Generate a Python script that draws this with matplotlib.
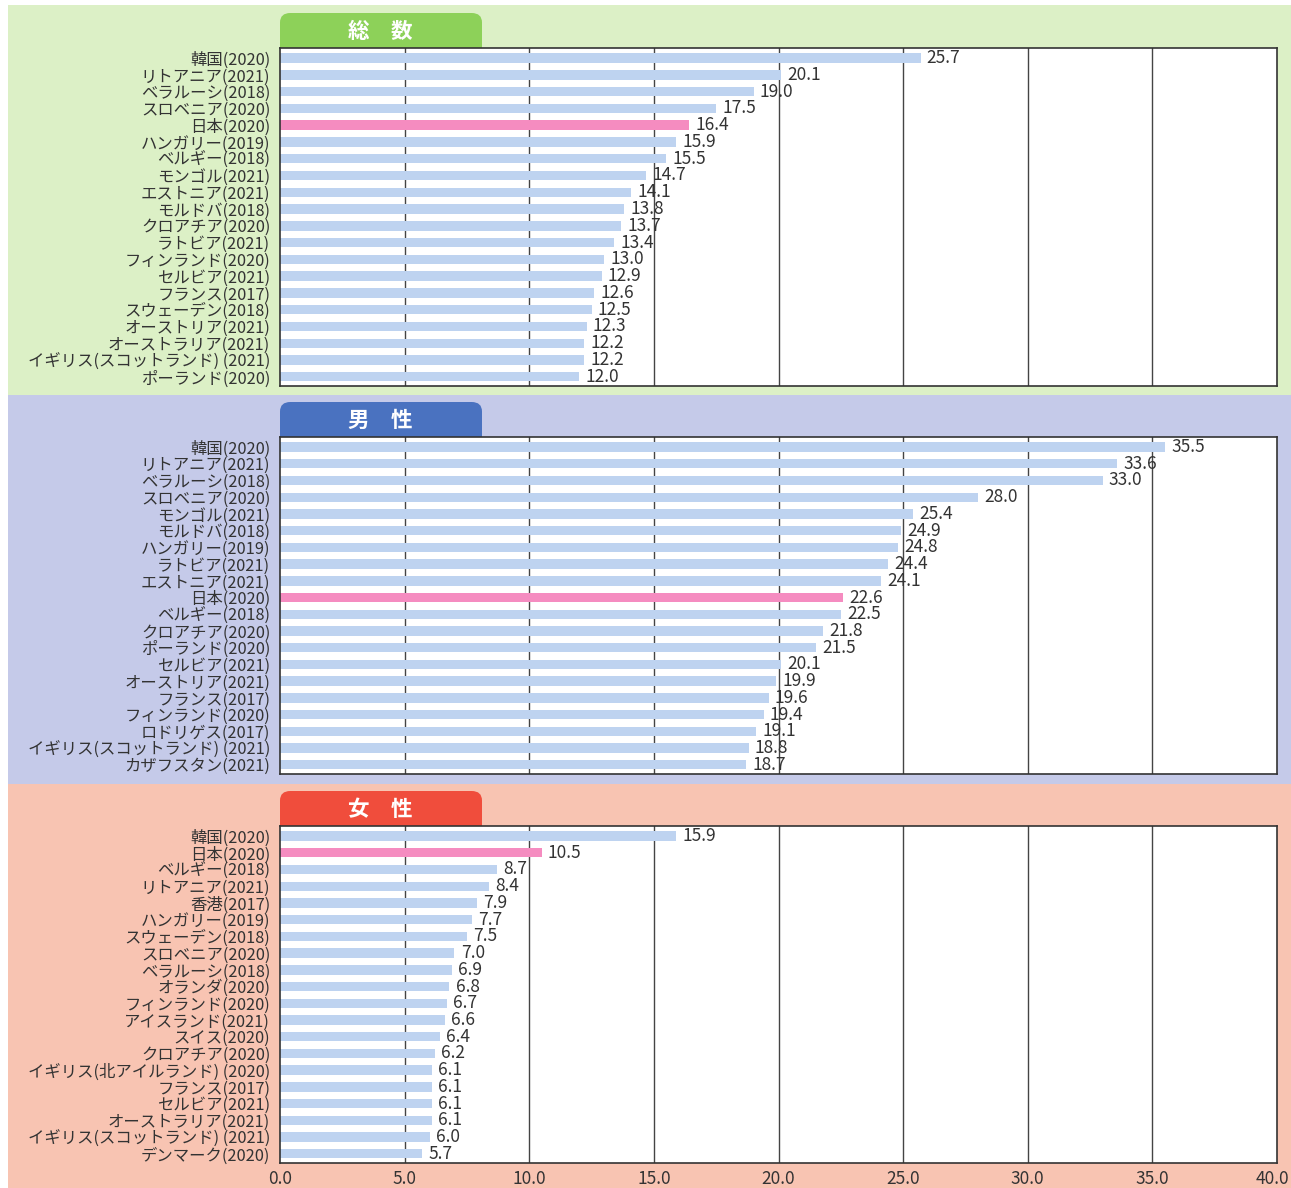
import matplotlib
matplotlib.use("Agg")
import matplotlib.pyplot as plt
from matplotlib.patches import Rectangle, FancyBboxPatch
from matplotlib.transforms import ScaledTranslation

plt.rcParams['font.family'] = ['Noto Sans CJK JP', 'DejaVu Sans']

# ---- data -------------------------------------------------------------
total_labels = ["韓国(2020)", "リトアニア(2021)", "ベラルーシ(2018)", "スロベニア(2020)",
                "日本(2020)", "ハンガリー(2019)", "ベルギー(2018)", "モンゴル(2021)",
                "エストニア(2021)", "モルドバ(2018)", "クロアチア(2020)", "ラトビア(2021)",
                "フィンランド(2020)", "セルビア(2021)", "フランス(2017)", "スウェーデン(2018)",
                "オーストリア(2021)", "オーストラリア(2021)", "イギリス(スコットランド) (2021)",
                "ポーランド(2020)"]
total_values = [25.7, 20.1, 19.0, 17.5, 16.4, 15.9, 15.5, 14.7, 14.1, 13.8,
                13.7, 13.4, 13.0, 12.9, 12.6, 12.5, 12.3, 12.2, 12.2, 12.0]

male_labels = ["韓国(2020)", "リトアニア(2021)", "ベラルーシ(2018)", "スロベニア(2020)",
               "モンゴル(2021)", "モルドバ(2018)", "ハンガリー(2019)", "ラトビア(2021)",
               "エストニア(2021)", "日本(2020)", "ベルギー(2018)", "クロアチア(2020)",
               "ポーランド(2020)", "セルビア(2021)", "オーストリア(2021)", "フランス(2017)",
               "フィンランド(2020)", "ロドリゲス(2017)", "イギリス(スコットランド) (2021)",
               "カザフスタン(2021)"]
male_values = [35.5, 33.6, 33.0, 28.0, 25.4, 24.9, 24.8, 24.4, 24.1, 22.6,
               22.5, 21.8, 21.5, 20.1, 19.9, 19.6, 19.4, 19.1, 18.8, 18.7]

female_labels = ["韓国(2020)", "日本(2020)", "ベルギー(2018)", "リトアニア(2021)",
                 "香港(2017)", "ハンガリー(2019)", "スウェーデン(2018)", "スロベニア(2020)",
                 "ベラルーシ(2018)", "オランダ(2020)", "フィンランド(2020)", "アイスランド(2021)",
                 "スイス(2020)", "クロアチア(2020)", "イギリス(北アイルランド) (2020)",
                 "フランス(2017)", "セルビア(2021)", "オーストラリア(2021)",
                 "イギリス(スコットランド) (2021)", "デンマーク(2020)"]
female_values = [15.9, 10.5, 8.7, 8.4, 7.9, 7.7, 7.5, 7.0, 6.9, 6.8,
                 6.7, 6.6, 6.4, 6.2, 6.1, 6.1, 6.1, 6.1, 6.0, 5.7]

x_ticks = [0, 5, 10, 15, 20, 25, 30, 35, 40]
highlight = "日本(2020)"

# ---- styling ------------------------------------------------------------
W, H = 1291, 1188
BAR = "#bed3f0"
JAPAN = "#f58cc0"
TEXT = "#333333"

panels = [
    dict(title="総\u3000数", labels=total_labels, values=total_values,
         bg="#dcf0c6", tab="#8dd159", band=(5, 395), ax=(48, 386), tab_y=13),
    dict(title="男\u3000性", labels=male_labels, values=male_values,
         bg="#c5cae9", tab="#4a72c0", band=(395, 784), ax=(437, 774), tab_y=402),
    dict(title="女\u3000性", labels=female_labels, values=female_values,
         bg="#f8c4b2", tab="#f04d3c", band=(784, H), ax=(826, 1163), tab_y=791),
]

fig = plt.figure(figsize=(W / 100, H / 100), dpi=100)
fig.patch.set_facecolor("white")

AX_L, AX_R = 280, 1277


def fx(px):
    return px / W


def fy(py):
    return 1 - py / H


for i, p in enumerate(panels):
    y0, y1 = p["band"]
    fig.add_artist(Rectangle((fx(8), fy(y1)), fx(W - 8), (y1 - y0) / H,
                             transform=fig.transFigure, facecolor=p["bg"],
                             edgecolor="none", zorder=-3))
    # header tab with rounded top corners; its lower part sits behind the axes
    ty = p["tab_y"]
    tab_h = p["ax"][0] - ty
    fig.add_artist(FancyBboxPatch((fx(AX_L), fy(ty + tab_h + 20)), fx(202), (tab_h + 20) / H,
                                  boxstyle="round,pad=0,rounding_size=0.008",
                                  transform=fig.transFigure, facecolor=p["tab"],
                                  edgecolor="none", zorder=-2))
    fig.text(fx(AX_L + 100), fy(ty + tab_h / 2 + 1), p["title"], color="white",
             fontsize=15.5, fontweight="bold", ha="center", va="center", zorder=5)

    top, bot = p["ax"]
    ax = fig.add_axes([fx(AX_L), fy(bot), fx(AX_R - AX_L), (bot - top) / H])
    ax.set_facecolor("white")
    n = len(p["labels"])
    ypos = list(range(n))
    colors = [JAPAN if lab == highlight else BAR for lab in p["labels"]]
    ax.barh(ypos, p["values"], height=0.56, color=colors, zorder=3)
    for y, v in zip(ypos, p["values"]):
        ax.text(v + 0.25, y, f"{v:.1f}", va="center", ha="left",
                fontsize=12.5, color=TEXT, zorder=4)
    ax.set_xlim(0, 40)
    ax.set_ylim(n - 0.45, -0.6)
    ax.set_yticks(ypos)
    ax.set_yticklabels(p["labels"], fontsize=11.8, color=TEXT)
    ax.set_xticks(x_ticks)
    for gx in x_ticks[1:-1]:
        ax.axvline(gx, color="#444444", lw=1.0, zorder=1)
    ax.tick_params(axis="both", length=0)
    ax.tick_params(axis="y", pad=7)
    if i == len(panels) - 1:
        ax.set_xticklabels([f"{t:.1f}" for t in x_ticks], fontsize=12.5, color=TEXT)
        ax.tick_params(axis="x", pad=5)
        # keep the right-most tick label inside the canvas
        last = ax.get_xticklabels()[-1]
        last.set_transform(last.get_transform() + ScaledTranslation(-5 / 100, 0, fig.dpi_scale_trans))
    else:
        ax.set_xticklabels([])
    for s in ax.spines.values():
        s.set_color("#333333")
        s.set_linewidth(1.2)
        s.set_zorder(5)

fig.savefig("out.png", dpi=100)
